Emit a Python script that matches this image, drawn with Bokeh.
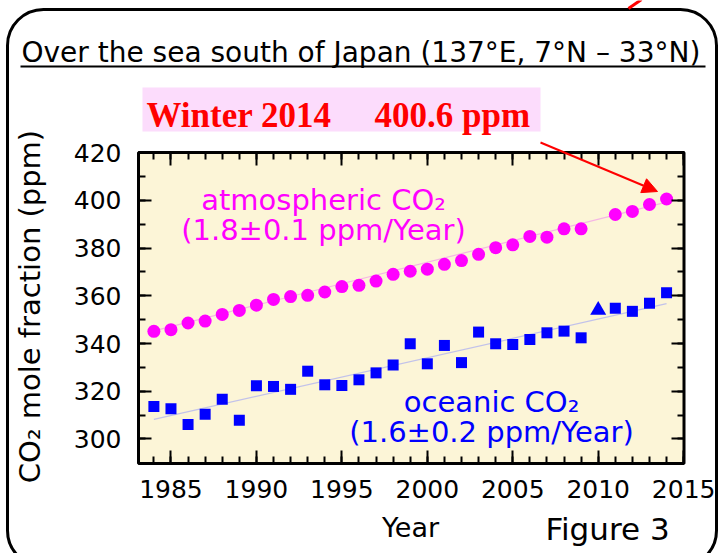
import numpy as np
from bokeh.plotting import figure
from bokeh.models import (Range1d, FixedTicker, LinearAxis, Label, BoxAnnotation,
                          Arrow, NormalHead, CustomJSTickFormatter)
from bokeh.embed import file_html
from bokeh.resources import INLINE

# ---------------- data ----------------
years_atm = [1984, 1985, 1986, 1987, 1988, 1989, 1990, 1991, 1992, 1993, 1994, 1995,
             1996, 1997, 1998, 1999, 2000, 2001, 2002, 2003, 2004, 2005, 2006, 2007,
             2008, 2009, 2011, 2012, 2013, 2014]
co2_atm = [345.1, 345.8, 348.6, 349.4, 352.2, 353.9, 356.1, 358.5, 359.7, 360.2, 361.6, 363.9,
           364.4, 366.2, 369.0, 370.3, 371.2, 373.2, 374.8, 377.4, 380.2, 381.4, 384.9, 384.6,
           388.1, 388.1, 394.1, 395.4, 398.3, 400.6]

years_oce = [1984, 1985, 1986, 1987, 1988, 1989, 1990, 1991, 1992, 1993, 1994, 1995,
             1996, 1997, 1998, 1999, 2000, 2001, 2002, 2003, 2004, 2005, 2006, 2007,
             2008, 2009, 2011, 2012, 2013, 2014]
co2_oce = [313.6, 312.7, 306.1, 310.3, 316.6, 307.8, 322.3, 322.0, 320.8, 328.4, 322.7, 322.4,
           324.8, 327.7, 331.0, 339.9, 331.5, 339.2, 332.0, 344.8, 339.9, 339.6, 341.7, 344.5,
           345.2, 342.4, 354.8, 353.5, 356.9, 361.3]

tri_years = [2010]
tri_oce = [354.0]

trend_years = [1984, 2014]
trend_atm = [345.3, 399.3]
trend_oce = [308.2, 356.7]

x_major = [1985, 1990, 1995, 2000, 2005, 2010, 2015]
x_minor = list(range(1984, 2016))
y_major = [300, 320, 340, 360, 380, 400, 420]
y_minor = [300, 310, 320, 330, 340, 350, 360, 370, 380, 390, 400, 410, 420]

title_text = "Over the sea south of Japan (137°E, 7°N – 33°N)"
atm_label = ["atmospheric CO₂", "(1.8±0.1 ppm/Year)"]
oce_label = ["oceanic CO₂", "(1.6±0.2 ppm/Year)"]

# ---------------- layout ----------------
W, H = 718, 553
# inner plot box in canvas pixels
FL, FR, FT, FB = 138, 683.5, 152, 463
X0, X1 = 1983.1, 2015.02
Y0, Y1 = 289.7, 420.1


def dx(cx):
    return X0 + (cx - FL) * (X1 - X0) / (FR - FL)


def dy(cy):
    return Y1 - (cy - FT) * (Y1 - Y0) / (FB - FT)


def base(cy, size):
    # compensate text placement offset of alphabetic baseline
    return dy(cy - 0.37 * size)


p = figure(width=W, height=H, x_range=Range1d(dx(0), dx(W)), y_range=Range1d(dy(H), dy(0)),
           output_backend="svg", toolbar_location=None,
           x_axis_location=None, y_axis_location=None, min_border=0)
p.background_fill_color = "white"
p.border_fill_color = "white"
p.outline_line_color = None
p.xgrid.visible = False
p.ygrid.visible = False

# cream plot area (under glyphs)
p.add_layout(BoxAnnotation(left=X0, right=X1, bottom=Y0, top=Y1, fill_color="#FCF5D7",
                           fill_alpha=1, line_color=None, level="underlay"))


def style_axis(ax, major, minor, labels=True):
    ax.ticker = FixedTicker(ticks=major, minor_ticks=minor)
    ax.axis_line_color = None
    ax.major_tick_in = 13
    ax.major_tick_out = 0
    ax.minor_tick_in = 7
    ax.minor_tick_out = 0
    ax.major_tick_line_width = 2
    ax.minor_tick_line_width = 2
    ax.major_tick_line_color = "black"
    ax.minor_tick_line_color = "black"
    if labels:
        ax.major_label_text_font = "DejaVu Sans"
        ax.major_label_text_font_size = "25px"
        ax.major_label_text_color = "black"
    else:
        ax.formatter = CustomJSTickFormatter(code="return ''")
        ax.major_label_text_font_size = "0px"
        ax.major_label_standoff = 0


bottom_ax = LinearAxis(fixed_location=Y0)
style_axis(bottom_ax, x_major, x_minor)
bottom_ax.major_label_standoff = 16
p.add_layout(bottom_ax, "below")

left_ax = LinearAxis(fixed_location=X0)
style_axis(left_ax, y_major, y_minor)
left_ax.major_label_standoff = 17
p.add_layout(left_ax, "left")

top_ax = LinearAxis(fixed_location=Y1)
style_axis(top_ax, x_major, x_minor, labels=False)
p.add_layout(top_ax, "above")

right_ax = LinearAxis(fixed_location=X1)
style_axis(right_ax, y_major, y_minor, labels=False)
p.add_layout(right_ax, "right")

# ---------------- glyphs ----------------
p.line(trend_years, trend_atm, line_color="#F5B5E5", line_width=1.2)
p.line(trend_years, trend_oce, line_color="#C2C2EA", line_width=1.2)
p.scatter(years_atm, co2_atm, marker="circle", size=13, fill_color="#FF00FF", line_color=None)
p.scatter(years_oce, co2_oce, marker="square", size=11, fill_color="#0000FF", line_color=None)
p.scatter(tri_years, tri_oce, marker="triangle", size=16, fill_color="#0000FF", line_color=None)

# ---------------- annotations ----------------
# plot box outline
p.add_layout(BoxAnnotation(left=X0, right=X1, bottom=Y0, top=Y1, fill_alpha=0,
                           line_color="black", line_alpha=1, line_width=3))
# rounded outer frame
p.add_layout(BoxAnnotation(left=dx(7), right=dx(716), top=dy(9), bottom=dy(566),
                           fill_alpha=0, line_color="black", line_alpha=1, line_width=3,
                           border_radius=36))
# red stroke at the top edge
p.add_layout(Arrow(x_start=dx(641), y_start=dy(-1), x_end=dx(628), y_end=dy(8),
                   line_color="#FF0000", line_width=3, end=None))

p.add_layout(Label(x=dx(21), y=base(62.5, 28), text=title_text, text_font="DejaVu Sans",
                   text_font_size="28px", text_color="black", text_align="left",
                   text_baseline="alphabetic"))
p.add_layout(BoxAnnotation(left=dx(20), right=dx(705), top=dy(65), bottom=dy(67),
                           fill_color="black", fill_alpha=1, line_color=None))

p.add_layout(BoxAnnotation(left=dx(142), right=dx(540), top=dy(87), bottom=dy(131),
                           fill_color="#FCDCFC", fill_alpha=1, line_color=None))
p.add_layout(Label(x=dx(146), y=base(128, 35), text="Winter 2014", text_font="Liberation Serif",
                   text_font_style="bold", text_font_size="35px", text_color="#FF0000",
                   text_baseline="alphabetic"))
p.add_layout(Label(x=dx(374), y=base(128, 35), text="400.6 ppm", text_font="Liberation Serif",
                   text_font_style="bold", text_font_size="35px", text_color="#FF0000",
                   text_baseline="alphabetic"))
p.add_layout(Arrow(x_start=dx(540), y_start=dy(142), x_end=dx(657), y_end=dy(191),
                   line_color="#FF0000", line_width=2,
                   end=NormalHead(size=15, fill_color="#FF0000", line_color="#FF0000")))

for txt, cy in zip(atm_label, [210, 240]):
    p.add_layout(Label(x=dx(323), y=base(cy, 29), text=txt, text_font="DejaVu Sans",
                       text_font_size="29px", text_color="#FF00FF", text_align="center",
                       text_baseline="alphabetic"))
for txt, cy in zip(oce_label, [412, 442]):
    p.add_layout(Label(x=dx(491), y=base(cy, 29), text=txt, text_font="DejaVu Sans",
                       text_font_size="29px", text_color="#0000FF", text_align="center",
                       text_baseline="alphabetic"))

p.add_layout(Label(x=dx(29), y=dy(306), text="CO₂ mole fraction (ppm)", angle=np.pi / 2,
                   text_font="DejaVu Sans", text_font_size="29px", text_color="black",
                   text_align="center", text_baseline="middle"))
p.add_layout(Label(x=dx(410), y=base(537, 27), text="Year", text_font="DejaVu Sans",
                   text_font_size="27px", text_color="black", text_align="center",
                   text_baseline="alphabetic"))
p.add_layout(Label(x=dx(607), y=base(540, 31), text="Figure 3", text_font="DejaVu Sans",
                   text_font_size="31px", text_color="black", text_align="center",
                   text_baseline="alphabetic"))

open("out.html", "w").write(file_html(p, INLINE))
